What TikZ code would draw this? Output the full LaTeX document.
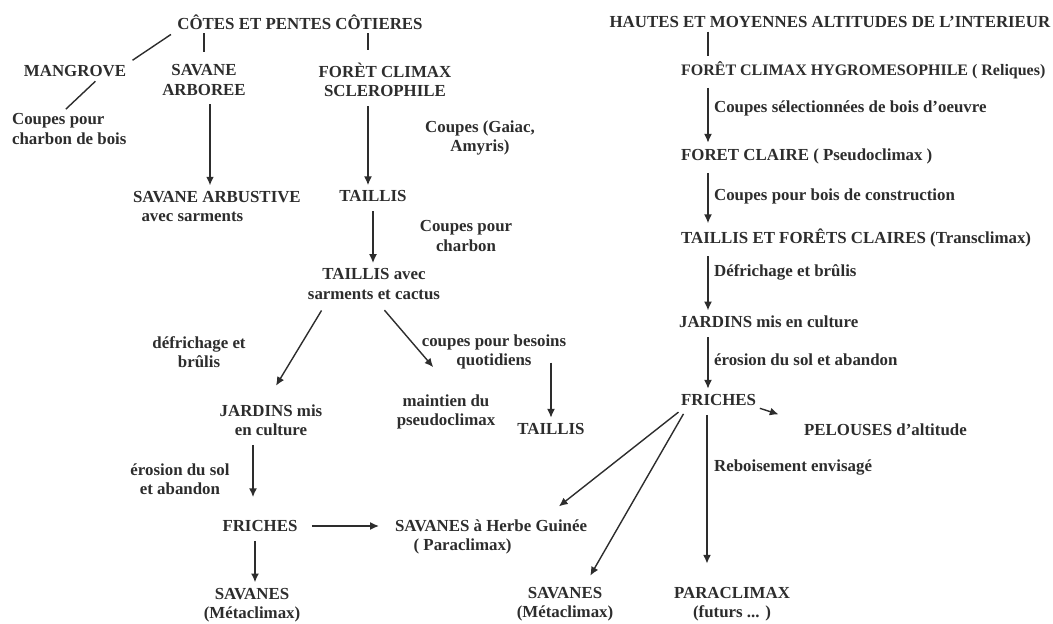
\documentclass[tikz,border=0pt]{standalone}
\usepackage{fontspec}
\setmainfont{Liberation Serif}
\usepackage{tikz}
\usetikzlibrary{arrows.meta,positioning,calc}
\definecolor{ink}{RGB}{45,45,45}

\begin{document}
\begin{tikzpicture}[
    txt/.style={inner sep=1pt, align=center, text=ink, font=\fontsize{9.6}{11}\selectfont\bfseries},
    ltxt/.style={txt, anchor=west, align=left},
    arr/.style={draw=ink, line width=0.8pt, -{Latex[length=5pt,width=4.5pt]}, shorten <=4pt, shorten >=2pt},
    heavy/.style={line width=1.5pt},
    tick/.style={draw=ink, line width=0.8pt}
]
    \useasboundingbox (0,0) rectangle (21.06,-12.48);

    % COTES ET PENTES COTIERES
    \node[txt] (cotes) at (6.00,-0.44) {CÔTES ET PENTES CÔTIERES};
    \node[txt] (mangrove) at (1.50,-1.42) {MANGROVE};
    \node[txt] (savarb) at (4.08,-1.60) {SAVANE\\ARBOREE};
    \node[txt] (foretsc) at (7.70,-1.60) {FORÈT CLIMAX\\SCLEROPHILE};
    \node[ltxt] (coupcb) at (0.20,-2.58) {Coupes pour\\charbon de bois};
    \node[txt] (coupga) at (9.60,-2.76) {Coupes (Gaiac,\\Amyris)};
    \node[ltxt] (savarbu) at (2.62,-4.13) {SAVANE ARBUSTIVE\\\hspace*{0.5em}avec sarments};
    \node[txt] (taillis1) at (7.46,-3.93) {TAILLIS};
    \node[txt] (coupch) at (9.32,-4.72) {Coupes pour\\charbon};
    \node[txt] (taillsc) at (7.48,-5.68) {TAILLIS avec\\sarments et cactus};
    \node[txt] (defr1) at (3.98,-7.04) {défrichage et\\brûlis};
    \node[txt] (coupbq) at (9.88,-7.04) {coupes pour besoins\\quotidiens};
    \node[txt] (jardins1) at (5.42,-8.40) {JARDINS mis\\en culture};
    \node[txt] (maint) at (8.92,-8.24) {maintien du\\pseudoclimax};
    \node[txt] (taillis2) at (11.02,-8.58) {TAILLIS};
    \node[txt] (eros1) at (3.60,-9.58) {érosion du sol\\et abandon};
    \node[txt] (friches1) at (5.20,-10.52) {FRICHES};
    \node[ltxt] (savhg) at (7.86,-10.74) {SAVANES à Herbe Guinée\\\hspace*{1.1em}( Paraclimax)};
    \node[txt] (savmet1) at (5.04,-12.10) {SAVANES\\(Métaclimax)};

    \draw[tick, shorten <=3pt, shorten >=3pt] (cotes.south west) -- (mangrove.north east);
    \draw[tick, shorten <=1pt, shorten >=6pt] (savarb.north |- cotes.south) -- (savarb.north);
    \draw[tick, shorten <=1pt, shorten >=6pt] ([xshift=-0.34cm]foretsc.north |- cotes.south) -- ([xshift=-0.34cm]foretsc.north);
    \draw[tick, shorten <=2pt, shorten >=2pt] ([xshift=0.46cm]mangrove.south) -- ([xshift=-0.12cm]coupcb.north);
    \draw[arr, heavy] ([xshift=0.12cm]savarb.south) -- ([xshift=0.12cm]savarb.south |- savarbu.north);
    \draw[arr] ([xshift=-0.1cm]taillis1.north |- foretsc.south) -- ([xshift=-0.1cm]taillis1.north);
    \draw[arr] (taillis1.south) -- (taillis1.south |- taillsc.north);
    \draw[arr, shorten <=6pt, shorten >=11pt] ([xshift=-0.94cm]taillsc.south) -- ([xshift=-0.1cm]jardins1.north);
    \draw[arr, shorten <=6.5pt, shorten >=19pt] ([xshift=0.06cm]taillsc.south) -- ([xshift=0.18cm]maint.north);
    \draw[arr, shorten <=6pt] (taillis2.north |- coupbq.east) -- (taillis2.north);
    \draw[arr, shorten >=12pt] ([xshift=-0.14cm]friches1.north |- jardins1.south) -- ([xshift=-0.14cm]friches1.north);
    \draw[arr, shorten <=7pt, shorten >=8pt] (friches1.east) -- (friches1.east -| savhg.west);
    \draw[arr] ([xshift=-0.1cm]friches1.south) -- ([xshift=-0.1cm]friches1.south |- savmet1.north);

    % HAUTES ET MOYENNES ALTITUDES
    \node[txt] (hautes) at (16.60,-0.44) {HAUTES ET MOYENNES ALTITUDES DE L'INTERIEUR};
    \node[ltxt, font=\fontsize{9.1}{11}\selectfont\bfseries] (foretcl) at (13.58,-1.40) {FORÊT CLIMAX HYGROMESOPHILE ( Reliques)};
    \node[ltxt] (coupsel) at (14.24,-2.16) {Coupes sélectionnées de bois d'oeuvre};
    \node[ltxt] (foretcla) at (13.58,-3.12) {FORET CLAIRE ( Pseudoclimax )};
    \node[ltxt] (coupbc) at (14.24,-3.92) {Coupes pour bois de construction};
    \node[ltxt] (taillfc) at (13.58,-4.76) {TAILLIS ET FORÊTS CLAIRES (Transclimax)};
    \node[ltxt] (defr2) at (14.24,-5.44) {Défrichage et brûlis};
    \node[ltxt] (jardins2) at (13.54,-6.44) {JARDINS mis en culture};
    \node[ltxt] (eros2) at (14.24,-7.20) {érosion du sol et abandon};
    \node[ltxt] (friches2) at (13.58,-8.00) {FRICHES};
    \node[ltxt] (pelouses) at (16.04,-8.60) {PELOUSES d'altitude};
    \node[ltxt] (reboise) at (14.24,-9.36) {Reboisement envisagé};
    \node[txt] (savmet2) at (11.30,-12.08) {SAVANES\\(Métaclimax)};
    \node[txt] (paracl) at (14.64,-12.08) {PARACLIMAX\\(futurs ... )};

    \draw[tick, shorten <=1pt, shorten >=2pt] ([xshift=0.58cm]foretcl.north west |- hautes.south) -- ([xshift=0.58cm]foretcl.north west);
    \draw[arr] ([xshift=0.58cm]foretcl.south west) -- ([xshift=0.58cm]foretcl.south west |- foretcla.north);
    \draw[arr] ([xshift=0.58cm]foretcla.south west) -- ([xshift=0.58cm]foretcla.south west |- taillfc.north);
    \draw[arr] ([xshift=0.58cm]taillfc.south west) -- ([xshift=0.58cm]taillfc.south west |- jardins2.north);
    \draw[arr] ([xshift=0.62cm]jardins2.south west) -- ([xshift=0.62cm]jardins2.south west |- friches2.north);
    \draw[arr, shorten <=1pt, shorten >=14pt] (friches2.south east) -- (pelouses.north west);
    \draw[arr, heavy, shorten >=12pt] ([xshift=0.56cm]friches2.south west) -- ([xshift=0.56cm]friches2.south west |- paracl.north);
    \draw[arr] ([xshift=0.1cm]friches2.south west) -- ([xshift=1.3cm,yshift=0.18cm]savhg.north);
    \draw[arr, shorten >=6pt] ([xshift=0.16cm]friches2.south west) -- ([xshift=0.4cm]savmet2.north);
\end{tikzpicture}
\end{document}
